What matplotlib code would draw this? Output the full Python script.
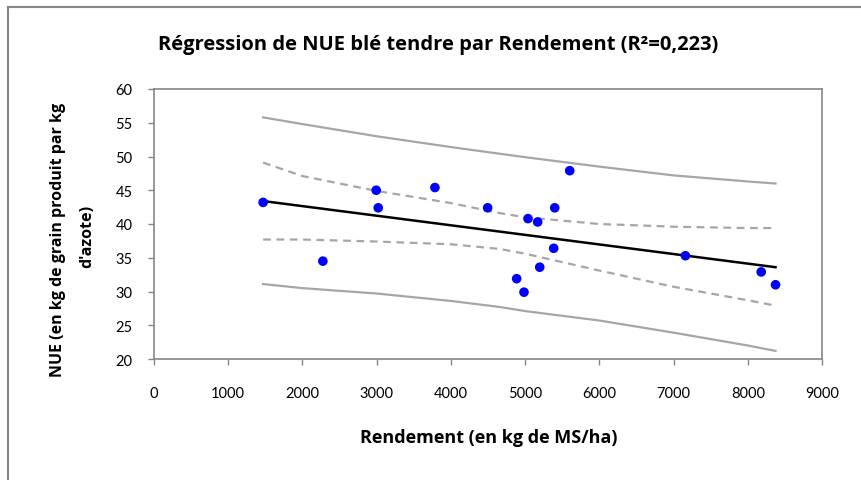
import matplotlib
matplotlib.use("Agg")
import matplotlib.pyplot as plt
from matplotlib.lines import Line2D

# Observations
rendement = [1470, 2275, 2994, 3021, 3785, 4495, 4886, 4985, 5039, 5169,
             5197, 5385, 5399, 5601, 7160, 8181, 8374]
nue = [43.2, 34.5, 45.0, 42.4, 45.4, 42.4, 31.9, 29.9, 40.8, 40.3,
       33.6, 36.4, 42.4, 47.9, 35.3, 32.9, 31.0]

# Regression line (endpoints)
reg_x = [1470, 8374]
reg_y = [43.4, 33.6]

# Bands
band_x = [1470, 2000, 3000, 4000, 4664, 5000, 6000, 7000, 8000, 8374]
pred_upper = [55.8, 54.8, 53.0, 51.4, 50.4, 49.9, 48.5, 47.2, 46.3, 46.0]
pred_lower = [31.1, 30.5, 29.7, 28.6, 27.7, 27.1, 25.7, 23.9, 22.0, 21.2]
conf_upper = [49.1, 47.1, 44.9, 43.1, 41.6, 41.0, 40.0, 39.6, 39.4, 39.4]
conf_lower = [37.7, 37.7, 37.4, 37.0, 36.3, 35.6, 33.1, 30.7, 28.7, 27.9]

xticks = [0, 1000, 2000, 3000, 4000, 5000, 6000, 7000, 8000, 9000]
yticks = [20, 25, 30, 35, 40, 45, 50, 55, 60]

title = "Régression de NUE blé tendre par Rendement (R²=0,223)"
xlabel = "Rendement (en kg de MS/ha)"
ylabel_lines = ["NUE (en kg de grain produit par kg", "d'azote)"]

W, H = 861, 481
fig = plt.figure(figsize=(W / 100, H / 100), dpi=100)
fig.patch.set_facecolor("white")

ax = fig.add_axes([154 / W, 1 - 360 / H, (822 - 154) / W, (360 - 90) / H])

band_col = "#A6A6A6"
ax.plot(band_x, pred_upper, color=band_col, lw=1.6, zorder=2)
ax.plot(band_x, pred_lower, color=band_col, lw=1.6, zorder=2)
ax.plot(band_x, conf_upper, color=band_col, lw=1.6, ls=(0, (3.5, 2.5)), zorder=2)
ax.plot(band_x, conf_lower, color=band_col, lw=1.6, ls=(0, (3.5, 2.5)), zorder=2)
ax.plot(reg_x, reg_y, color="black", lw=1.8, zorder=3)
ax.scatter(rendement, nue, s=48, color="#0000FF", edgecolors="none", zorder=4)

ax.set_xlim(0, 9000)
ax.set_ylim(20, 60)
ax.set_xticks(xticks)
ax.set_yticks(yticks)
ax.set_xticklabels([str(v) for v in xticks])
ax.set_yticklabels([str(v) for v in yticks])

spine_col = "#868686"
for s in ax.spines.values():
    s.set_color(spine_col)
    s.set_linewidth(1.2)
ax.tick_params(axis="both", direction="out", length=4.5, width=1.0,
               color=spine_col, labelsize=10.5, labelcolor="#000000")
ax.tick_params(axis="x", pad=15)
ax.tick_params(axis="y", pad=11)
for lab in ax.get_xticklabels() + ax.get_yticklabels():
    lab.set_family("Lato")

bold_font = "Open Sans"
fig.text(438 / W, 1 - 45 / H, title, ha="center", va="center",
         fontsize=14.5, fontweight="bold", family=bold_font)
fig.text(489 / W, 1 - 438 / H, xlabel, ha="center", va="center",
         fontsize=13, fontweight="bold", family=bold_font)
fig.text(58 / W, 1 - 240 / H, ylabel_lines[0], ha="center", va="center",
         rotation=90, fontsize=11.5, fontweight="bold", family=bold_font)
fig.text(87 / W, 1 - 236 / H, ylabel_lines[1], ha="center", va="center",
         rotation=90, fontsize=11.5, fontweight="bold", family=bold_font)

# Outer chart border (top and left visible)
fig.add_artist(Line2D([8 / W, 8 / W], [0, 1 - 8 / H], transform=fig.transFigure,
                      color=spine_col, lw=1.5))
fig.add_artist(Line2D([8 / W, 1], [1 - 8 / H, 1 - 8 / H], transform=fig.transFigure,
                      color=spine_col, lw=1.5))

fig.savefig("out.png", dpi=100, facecolor="white")
